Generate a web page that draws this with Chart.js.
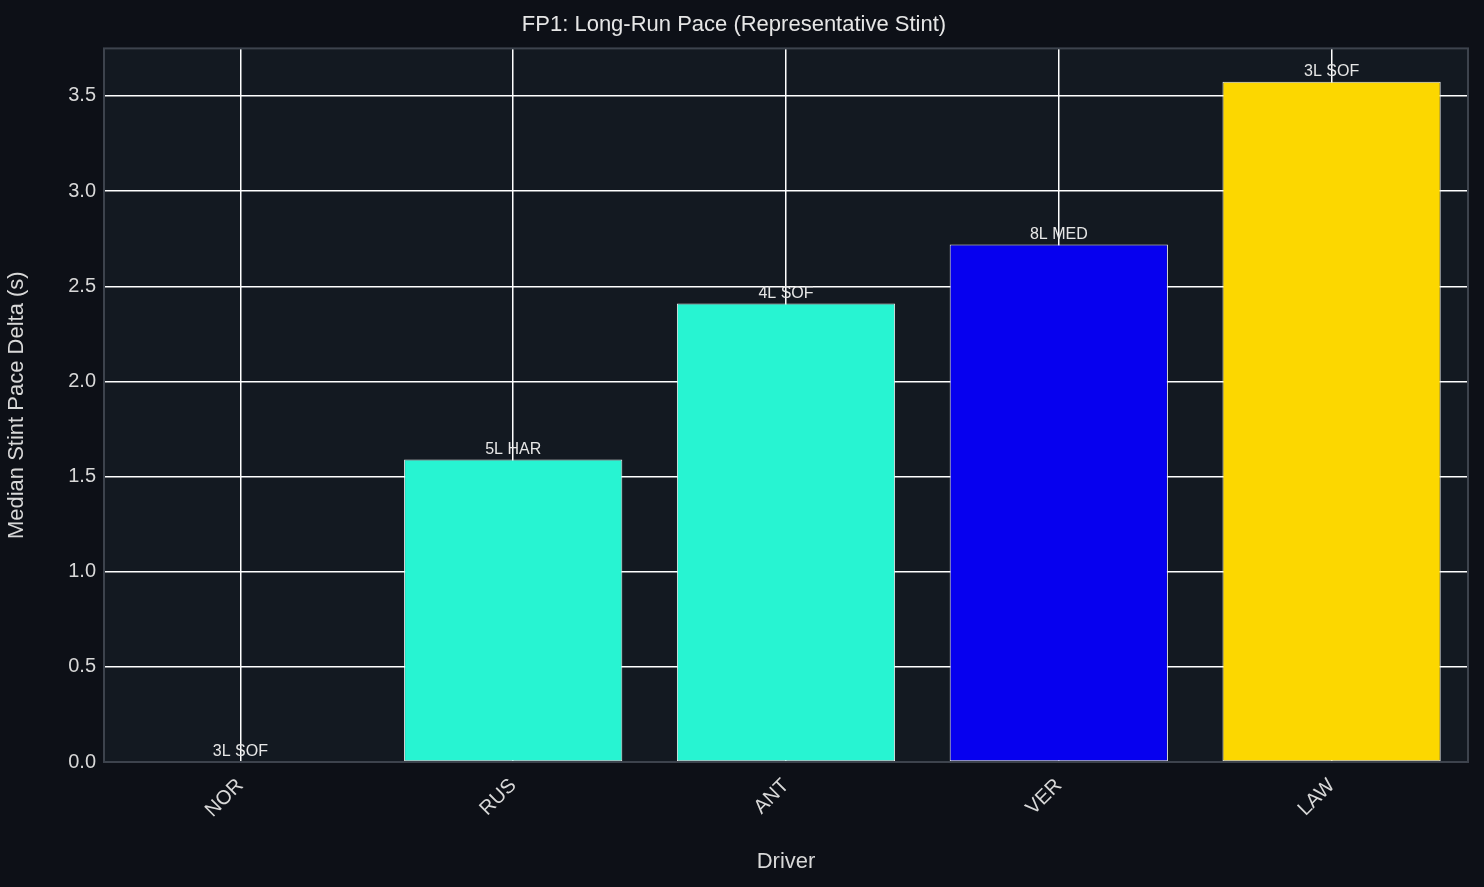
<!DOCTYPE html>
<html><head><meta charset="utf-8">
<script src="https://cdn.jsdelivr.net/npm/chart.js@4"></script>
<style>
html,body{margin:0;background:#0d1017;}
#wrap{width:1484px;height:887px;position:relative;}
</style></head>
<body><div id="wrap"><canvas id="c"></canvas></div>
<script>
const drivers = ['NOR', 'RUS', 'ANT', 'VER', 'LAW'];
const paceDelta = [0, 1.59, 2.41, 2.72, 3.575];
const stintLabels = ['3L SOF', '5L HAR', '4L SOF', '8L MED', '3L SOF'];
const barColors = ['#ff8000', '#27f4d2', '#27f4d2', '#0600ef', '#fcd700'];
const yTicks = [0, 0.5, 1, 1.5, 2, 2.5, 3, 3.5];
const FONT = '"Liberation Sans", Arial, sans-serif';

// plot background + frame
const plotBg = {
    id: 'plotBg',
    beforeDraw(chart) {
        const {ctx, chartArea: a} = chart;
        ctx.save();
        ctx.fillStyle = '#131921';
        ctx.fillRect(a.left, a.top, a.right - a.left, a.bottom - a.top);
        ctx.restore();
    },
    afterDraw(chart) {
        const {ctx, chartArea: a} = chart;
        ctx.save();
        ctx.strokeStyle = '#3d434d';
        ctx.lineWidth = 2;
        ctx.strokeRect(a.left, a.top, a.right - a.left, a.bottom - a.top);
        ctx.restore();
    }
};

// stint labels above bars
const barText = {
    id: 'barText',
    afterDraw(chart) {
        const {ctx} = chart;
        const meta = chart.getDatasetMeta(0);
        ctx.save();
        ctx.fillStyle = '#e6e6e6';
        ctx.font = '16px ' + FONT;
        ctx.textAlign = 'center';
        ctx.textBaseline = 'bottom';
        meta.data.forEach((bar, i) => {
            ctx.fillText(stintLabels[i], bar.x, bar.y - 2);
        });
        ctx.restore();
    }
};

new Chart(document.getElementById('c'), {
    type: 'bar',
    data: {
        labels: drivers,
        datasets: [{
            data: paceDelta,
            backgroundColor: barColors,
            borderColor: '#f0f0f0',
            borderWidth: 1,
            borderSkipped: false,
            categoryPercentage: 1,
            barPercentage: 0.8
        }]
    },
    options: {
        responsive: true,
        maintainAspectRatio: false,
        animation: false,
        devicePixelRatio: 1,
        layout: { padding: { right: 16, top: 0, left: 0, bottom: 0 } },
        plugins: {
            legend: { display: false },
            tooltip: { enabled: false },
            title: {
                display: true,
                text: 'FP1: Long-Run Pace (Representative Stint)',
                color: '#e6e6e6',
                font: { family: FONT, size: 22, weight: 'normal' },
                padding: { top: 12, bottom: 10 }
            }
        },
        scales: {
            x: {
                z: 1,
                afterFit(scale) { scale.height = 125; },
                grid: { color: '#ffffff', lineWidth: 1.5, offset: false, drawTicks: false },
                border: { display: false },
                ticks: { color: '#d8d8d8', font: { family: FONT, size: 20 }, maxRotation: 45, minRotation: 45, padding: 12 },
                title: { display: true, text: 'Driver', color: '#d8d8d8', font: { family: FONT, size: 22 }, padding: { top: 4, bottom: 12 } }
            },
            y: {
                z: 1,
                min: 0,
                max: 3.75,
                afterFit(scale) { scale.width = 104; },
                afterBuildTicks(scale) {
                    scale.ticks = yTicks.map(v => ({ value: v }));
                },
                grid: { color: '#ffffff', lineWidth: 1.5, drawTicks: false },
                border: { display: false },
                ticks: { color: '#d8d8d8', font: { family: FONT, size: 20 }, padding: 8,
                    callback: v => v.toFixed(1) },
                title: { display: true, text: 'Median Stint Pace Delta (s)', color: '#d8d8d8', font: { family: FONT, size: 22 } }
            }
        }
    },
    plugins: [plotBg, barText]
});
</script></body></html>
